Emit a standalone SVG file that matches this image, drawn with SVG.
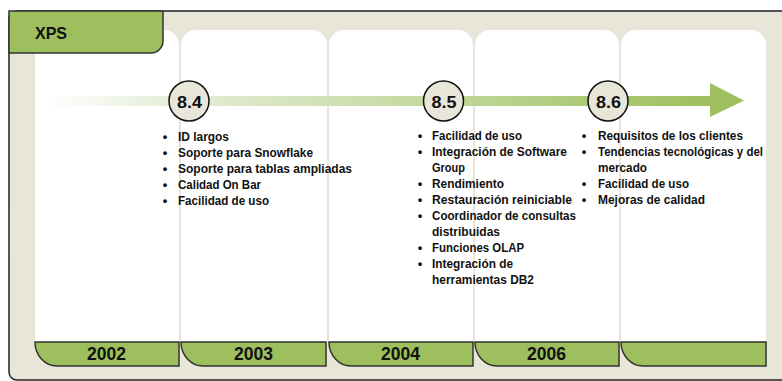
<svg xmlns="http://www.w3.org/2000/svg" width="782" height="381" viewBox="0 0 782 381">
<defs>
<linearGradient id="tl" x1="45" y1="0" x2="712" y2="0" gradientUnits="userSpaceOnUse">
<stop offset="0" stop-color="#ffffff"/>
<stop offset="0.2" stop-color="#e4edd6"/>
<stop offset="0.55" stop-color="#c6daa3"/>
<stop offset="0.8" stop-color="#aecb7a"/>
<stop offset="1" stop-color="#9dbf5e"/>
</linearGradient>
<style>
.frame{fill:#e8e6d9;stroke:#222;stroke-width:1.5}
.col{fill:#ffffff}
.tab{fill:#9dbf5e;stroke:#333;stroke-width:1.5}
.t{font-family:"Liberation Sans",Arial,sans-serif;font-weight:bold;fill:#111}
.yr{font-size:18px}
.ver{font-size:16px}
.b{font-size:13px}
.bl{font-size:13px;text-anchor:middle}
.circ{fill:#e8e6d9;stroke:#111;stroke-width:1.5}
</style>
</defs>
<rect class="frame" x="9" y="11" width="800" height="369" rx="8"/>
<g id="columns">
<path class="col" d="M35,45 A15,15 0 0 1 50,30 H164 A15,15 0 0 1 179,45 V343 H35 Z"/>
<path class="col" d="M181,45 A15,15 0 0 1 196,30 H312 A15,15 0 0 1 327,45 V343 H181 Z"/>
<path class="col" d="M329,45 A15,15 0 0 1 344,30 H458 A15,15 0 0 1 473,45 V343 H329 Z"/>
<path class="col" d="M475,45 A15,15 0 0 1 490,30 H604 A15,15 0 0 1 619,45 V343 H475 Z"/>
<path class="col" d="M621,45 A15,15 0 0 1 636,30 H751 A15,15 0 0 1 766,45 V343 H621 Z"/>
</g>
<g id="xps">
<path class="tab" d="M9,11 V53 H151 A12,12 0 0 0 163,41 V11 Z"/>
<text class="t" x="35" y="39" font-size="17" textLength="32" lengthAdjust="spacingAndGlyphs">XPS</text>
</g>
<g id="connectors">
<rect x="45" y="96" width="667" height="10" fill="url(#tl)"/>
<polygon points="710,83 744,100.5 710,117" fill="#9dbf5e"/>
</g>
<g id="v84">
<circle class="circ" cx="189" cy="101" r="20"/>
<text class="t ver" x="177" y="108" textLength="25" lengthAdjust="spacingAndGlyphs">8.4</text>
</g>
<g id="v85">
<circle class="circ" cx="443.5" cy="101" r="20"/>
<text class="t ver" x="431.5" y="108" textLength="25" lengthAdjust="spacingAndGlyphs">8.5</text>
</g>
<g id="v86">
<circle class="circ" cx="608" cy="101" r="20"/>
<text class="t ver" x="596" y="108" textLength="25" lengthAdjust="spacingAndGlyphs">8.6</text>
</g>
<g id="list84">
<text class="t bl" x="165" y="141">•</text><text class="t b" x="178" y="141" textLength="51" lengthAdjust="spacingAndGlyphs">ID largos</text>
<text class="t bl" x="165" y="157">•</text><text class="t b" x="178" y="157" textLength="135" lengthAdjust="spacingAndGlyphs">Soporte para Snowflake</text>
<text class="t bl" x="165" y="173">•</text><text class="t b" x="178" y="173" textLength="174" lengthAdjust="spacingAndGlyphs">Soporte para tablas ampliadas</text>
<text class="t bl" x="165" y="189">•</text><text class="t b" x="178" y="189" textLength="83" lengthAdjust="spacingAndGlyphs">Calidad On Bar</text>
<text class="t bl" x="165" y="205">•</text><text class="t b" x="178" y="205" textLength="91" lengthAdjust="spacingAndGlyphs">Facilidad de uso</text>
</g>
<g id="list85">
<text class="t bl" x="420" y="140">•</text><text class="t b" x="432" y="140" textLength="90" lengthAdjust="spacingAndGlyphs">Facilidad de uso</text>
<text class="t bl" x="420" y="156">•</text><text class="t b" x="432" y="156" textLength="135" lengthAdjust="spacingAndGlyphs">Integración de Software</text>
<text class="t b" x="432" y="172" textLength="33" lengthAdjust="spacingAndGlyphs">Group</text>
<text class="t bl" x="420" y="188">•</text><text class="t b" x="432" y="188" textLength="72" lengthAdjust="spacingAndGlyphs">Rendimiento</text>
<text class="t bl" x="420" y="204">•</text><text class="t b" x="432" y="204" textLength="140" lengthAdjust="spacingAndGlyphs">Restauración reiniciable</text>
<text class="t bl" x="420" y="220">•</text><text class="t b" x="432" y="220" textLength="144" lengthAdjust="spacingAndGlyphs">Coordinador de consultas</text>
<text class="t b" x="432" y="236" textLength="68" lengthAdjust="spacingAndGlyphs">distribuidas</text>
<text class="t bl" x="420" y="252">•</text><text class="t b" x="432" y="252" textLength="92" lengthAdjust="spacingAndGlyphs">Funciones OLAP</text>
<text class="t bl" x="420" y="268">•</text><text class="t b" x="432" y="268" textLength="81" lengthAdjust="spacingAndGlyphs">Integración de</text>
<text class="t b" x="432" y="284" textLength="102" lengthAdjust="spacingAndGlyphs">herramientas DB2</text>
</g>
<g id="list86">
<text class="t bl" x="584" y="140">•</text><text class="t b" x="598" y="140" textLength="145" lengthAdjust="spacingAndGlyphs">Requisitos de los clientes</text>
<text class="t bl" x="584" y="156">•</text><text class="t b" x="598" y="156" textLength="165" lengthAdjust="spacingAndGlyphs">Tendencias tecnológicas y del</text>
<text class="t b" x="598" y="172" textLength="49" lengthAdjust="spacingAndGlyphs">mercado</text>
<text class="t bl" x="584" y="188">•</text><text class="t b" x="598" y="188" textLength="91" lengthAdjust="spacingAndGlyphs">Facilidad de uso</text>
<text class="t bl" x="584" y="204">•</text><text class="t b" x="598" y="204" textLength="107" lengthAdjust="spacingAndGlyphs">Mejoras de calidad</text>
</g>
<g id="y2002">
<path class="tab" d="M35,342 H179 V366 H57 A22,24 0 0 1 35,342 Z"/>
<text class="t yr" x="87" y="360" textLength="39" lengthAdjust="spacingAndGlyphs">2002</text>
</g>
<g id="y2003">
<path class="tab" d="M181,342 H326 V366 H203 A22,24 0 0 1 181,342 Z"/>
<text class="t yr" x="234" y="360" textLength="39" lengthAdjust="spacingAndGlyphs">2003</text>
</g>
<g id="y2004">
<path class="tab" d="M329,342 H473 V366 H351 A22,24 0 0 1 329,342 Z"/>
<text class="t yr" x="381" y="360" textLength="39" lengthAdjust="spacingAndGlyphs">2004</text>
</g>
<g id="y2006">
<path class="tab" d="M475,342 H619 V366 H497 A22,24 0 0 1 475,342 Z"/>
<text class="t yr" x="527" y="360" textLength="39" lengthAdjust="spacingAndGlyphs">2006</text>
</g>
<g id="yblank">
<path class="tab" d="M621,342 H766 V366 H643 A22,24 0 0 1 621,342 Z"/>
</g>
</svg>
